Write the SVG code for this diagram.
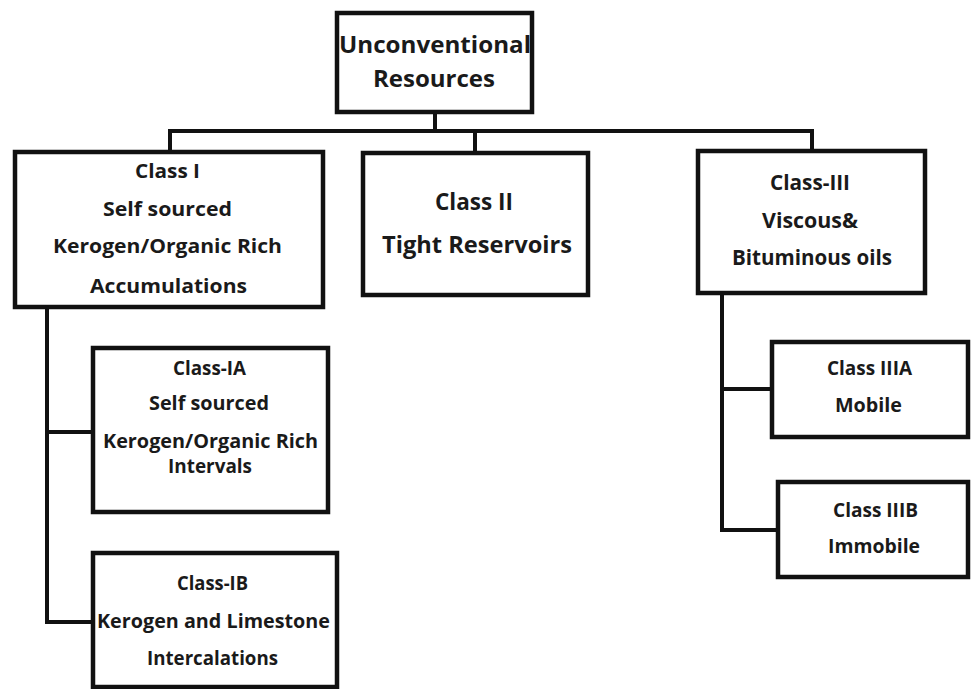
<svg xmlns="http://www.w3.org/2000/svg" width="971" height="689" viewBox="0 0 971 689">
  <style>
    .box { fill: #ffffff; stroke: #111111; stroke-width: 4.5; }
    .wire { fill: none; stroke: #111111; stroke-width: 4; stroke-linejoin: miter; stroke-linecap: square; }
    text { font-family: "Open Sans", "Liberation Sans", sans-serif; font-weight: 700; fill: #1a1a1a; text-anchor: middle; }
    .t20 { font-size: 20px; }
    .t22 { font-size: 22px; }
    .t24 { font-size: 24px; }
  </style>

  <rect width="971" height="689" fill="#ffffff"/>

  <!-- connectors -->
  <g id="connectors">
    <path class="wire" d="M435 112 V131"/>
    <path class="wire" d="M170 152 V131 H812 V151"/>
    <path class="wire" d="M475 131 V153"/>
    <path class="wire" d="M47 307 V622 H93"/>
    <path class="wire" d="M47 432 H93"/>
    <path class="wire" d="M722 293 V530 H778"/>
    <path class="wire" d="M722 389 H772"/>
  </g>

  <g id="root">
    <rect class="box" x="337" y="13" width="195" height="99"/>
    <text class="t24" x="435" y="53" textLength="192" lengthAdjust="spacingAndGlyphs">Unconventional</text>
    <text class="t24" x="434" y="87" textLength="122" lengthAdjust="spacingAndGlyphs">Resources</text>
  </g>

  <g id="class-1">
    <rect class="box" x="15" y="152" width="308" height="155"/>
    <text class="t20" x="167.5" y="178" textLength="65" lengthAdjust="spacingAndGlyphs">Class I</text>
    <text class="t20" x="167.5" y="216" textLength="129" lengthAdjust="spacingAndGlyphs">Self sourced</text>
    <text class="t20" x="167.5" y="253" textLength="229" lengthAdjust="spacingAndGlyphs">Kerogen/Organic Rich</text>
    <text class="t20" x="168.5" y="293" textLength="157" lengthAdjust="spacingAndGlyphs">Accumulations</text>
  </g>

  <g id="class-2">
    <rect class="box" x="363" y="153" width="225" height="142"/>
    <text class="t24" x="474" y="210" textLength="78" lengthAdjust="spacingAndGlyphs">Class II</text>
    <text class="t24" x="477" y="253" textLength="190" lengthAdjust="spacingAndGlyphs">Tight Reservoirs</text>
  </g>

  <g id="class-3">
    <rect class="box" x="698" y="151" width="227" height="142"/>
    <text class="t22" x="810" y="190" textLength="80" lengthAdjust="spacingAndGlyphs">Class-III</text>
    <text class="t22" x="810" y="228" textLength="96" lengthAdjust="spacingAndGlyphs">Viscous&amp;</text>
    <text class="t22" x="812" y="265" textLength="160" lengthAdjust="spacingAndGlyphs">Bituminous oils</text>
  </g>

  <g id="class-1a">
    <rect class="box" x="93" y="348" width="235" height="164"/>
    <text class="t20" x="209.5" y="375" textLength="73" lengthAdjust="spacingAndGlyphs">Class-IA</text>
    <text class="t20" x="209" y="410" textLength="120" lengthAdjust="spacingAndGlyphs">Self sourced</text>
    <text class="t20" x="210.5" y="448" textLength="215" lengthAdjust="spacingAndGlyphs">Kerogen/Organic  Rich</text>
    <text class="t20" x="210" y="473" textLength="84" lengthAdjust="spacingAndGlyphs">Intervals</text>
  </g>

  <g id="class-1b">
    <rect class="box" x="93" y="553" width="244" height="134"/>
    <text class="t20" x="212.5" y="590" textLength="71" lengthAdjust="spacingAndGlyphs">Class-IB</text>
    <text class="t20" x="213.5" y="628" textLength="233" lengthAdjust="spacingAndGlyphs">Kerogen and  Limestone</text>
    <text class="t20" x="212.5" y="665" textLength="131" lengthAdjust="spacingAndGlyphs">Intercalations</text>
  </g>

  <g id="class-3a">
    <rect class="box" x="772" y="342" width="196" height="95"/>
    <text class="t20" x="869.5" y="375" textLength="85" lengthAdjust="spacingAndGlyphs">Class  IIIA</text>
    <text class="t20" x="868.5" y="412" textLength="67" lengthAdjust="spacingAndGlyphs">Mobile</text>
  </g>

  <g id="class-3b">
    <rect class="box" x="778" y="482" width="190" height="95"/>
    <text class="t20" x="875.5" y="517" textLength="85" lengthAdjust="spacingAndGlyphs">Class  IIIB</text>
    <text class="t20" x="874" y="553" textLength="92" lengthAdjust="spacingAndGlyphs">Immobile</text>
  </g>
</svg>
